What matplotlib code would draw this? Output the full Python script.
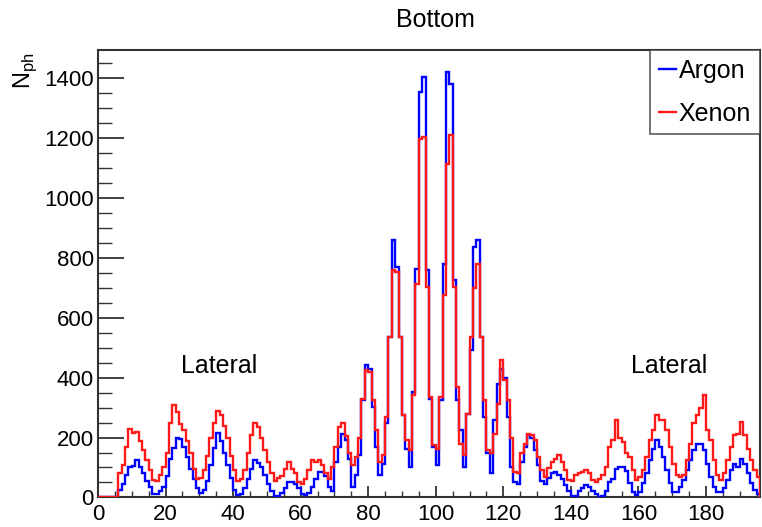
import numpy as np
import matplotlib
matplotlib.use('Agg')
from matplotlib import pyplot as plt
from matplotlib.ticker import MultipleLocator
from matplotlib.lines import Line2D

# bin edges: 196 bins of width 1 (0..196)
edges = np.arange(0, 197)

# Argon (blue) counts per bin
argon = [
    0, 0, 0, 0, 0, 0, 25, 45, 75, 100,                 # 0-9
    105, 124, 100, 80, 55, 35, 12, 10, 20, 35,          # 10-19
    70, 130, 165, 198, 195, 170, 135, 95, 60, 30,       # 20-29
    15, 25, 55, 110, 165, 215, 190, 150, 110, 65,       # 30-39
    25, 8, 12, 30, 60, 95, 124, 115, 100, 75,           # 40-49
    45, 20, 5, 5, 15, 30, 50, 52, 45, 30,               # 50-59
    12, 8, 15, 35, 60, 85, 85, 70, 35, 20,              # 60-69
    120, 169, 213, 191, 130, 35, 74, 141, 324, 441,     # 70-79
    430, 302, 169, 74, 113, 247, 535, 860, 769, 535,    # 80-89
    274, 163, 102, 352, 763, 1353, 1402, 758, 330, 169, # 90-99
    108, 324, 780, 1419, 1380, 725, 324, 224, 102, 280, # 100-109
    491, 835, 857, 535, 269, 147, 80, 258, 380, 430,    # 110-119
    400, 270, 100, 50, 45, 120, 170, 210, 200, 160,     # 120-129
    110, 55, 45, 65, 80, 85, 75, 60, 40, 20,            # 130-139
    5, 5, 20, 30, 40, 35, 20, 10, 3, 5,                 # 140-149
    20, 50, 60, 95, 102, 100, 88, 47, 19, 8,            # 150-159
    19, 47, 80, 124, 163, 191, 169, 135, 91, 47,        # 160-169
    19, 19, 35, 58, 91, 124, 158, 180, 180, 158,        # 170-179
    113, 69, 35, 19, 19, 30, 58, 91, 113, 102,          # 180-189
    130, 113, 80, 47, 24, 13,                           # 190-195
]

# Xenon (red) counts per bin
xenon = [
    0, 0, 0, 0, 0, 0, 80, 110, 170, 228,               # 0-9
    215, 218, 190, 160, 125, 90, 58, 55, 75, 100,       # 10-19
    150, 250, 308, 285, 245, 225, 190, 150, 95, 60,     # 20-29
    65, 90, 140, 200, 250, 290, 275, 240, 200, 140,     # 30-39
    90, 55, 60, 90, 150, 210, 250, 235, 200, 160,       # 40-49
    120, 80, 55, 65, 70, 95, 118, 95, 80, 50,           # 50-59
    45, 60, 90, 125, 120, 125, 110, 80, 60, 100,        # 60-69
    169, 235, 248, 205, 150, 110, 136, 197, 330, 424,   # 70-79
    419, 324, 224, 119, 141, 269, 535, 760, 752, 535,   # 80-89
    274, 191, 158, 341, 713, 1196, 1202, 702, 335, 174, # 90-99
    163, 335, 674, 1113, 1208, 702, 369, 180, 141, 280, # 100-109
    535, 700, 780, 535, 324, 158, 147, 213, 313, 457,   # 110-119
    391, 324, 197, 85, 80, 147, 180, 213, 208, 191,     # 120-129
    135, 91, 69, 97, 119, 130, 141, 119, 91, 58,        # 130-139
    55, 74, 80, 85, 91, 80, 57, 52, 63, 74,             # 140-149
    102, 169, 191, 258, 197, 185, 150, 135, 91, 58,     # 150-159
    69, 91, 135, 191, 224, 274, 258, 258, 224, 169,     # 160-169
    113, 74, 69, 74, 124, 180, 247, 274, 297, 341,      # 170-179
    224, 191, 124, 74, 58, 80, 124, 169, 208, 213,      # 180-189
    252, 208, 163, 124, 91, 69,                         # 190-195
]

plt.rcParams['font.family'] = ['Liberation Sans', 'DejaVu Sans']

fig = plt.figure(figsize=(7.62, 5.27), dpi=100)
ax = fig.add_axes([0.1286, 0.056, 0.8688, 0.849])

ax.stairs(argon, edges, color='#0000ff', lw=1.7, zorder=3)
ax.stairs(xenon, edges, color='#ff1a1a', lw=1.7, zorder=3)

ax.set_xlim(0, 196)
ax.set_ylim(0, 1492)

# ROOT-like axes: ticks inside, minor ticks, no ticks on top/right
ax.xaxis.set_major_locator(MultipleLocator(20))
ax.xaxis.set_minor_locator(MultipleLocator(5))
ax.yaxis.set_major_locator(MultipleLocator(200))
ax.yaxis.set_minor_locator(MultipleLocator(50))
ax.tick_params(which='both', direction='in', top=False, right=False,
               labelsize=16, color='#333333')
ax.tick_params(axis='y', which='major', length=19, width=1.3, pad=3)
ax.tick_params(axis='y', which='minor', length=10, width=1.0)
ax.tick_params(axis='x', which='major', length=8, width=1.3, pad=5)
ax.tick_params(axis='x', which='minor', length=4, width=1.0)
for s in ax.spines.values():
    s.set_linewidth(1.5)
    s.set_color('#333333')

fig.text(0.572, 0.962, 'Bottom', ha='center', va='center', fontsize=18)
ax.text(36, 440, 'Lateral', ha='center', va='center', fontsize=18)
ax.text(169, 440, 'Lateral', ha='center', va='center', fontsize=18)
fig.text(0.033, 0.865, r'N$_{\mathregular{ph}}$', rotation=90, ha='center',
         va='center', fontsize=17)

handles = [Line2D([], [], color='#0000ff', lw=1.7),
           Line2D([], [], color='#ff1a1a', lw=1.7)]
leg = ax.legend(handles, ['Argon', 'Xenon'], loc='upper right',
                bbox_to_anchor=(1.0, 1.0), fontsize=18, frameon=True,
                fancybox=False, borderaxespad=0, handlelength=0.7,
                handletextpad=0.1, borderpad=0.35, labelspacing=0.75)
leg.get_frame().set_edgecolor('#333333')
leg.get_frame().set_linewidth(1.2)

plt.savefig('out.png', dpi=100)
